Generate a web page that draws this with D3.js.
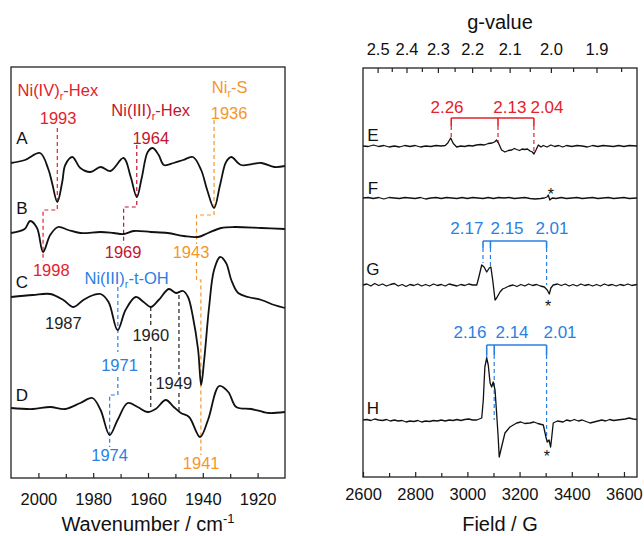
<!DOCTYPE html>
<html>
<head>
<meta charset="utf-8">
<script src="https://cdn.jsdelivr.net/npm/d3@7"></script>
<style>
  body { margin: 0; background: #fff; }
  svg { display: block; font-family: "Liberation Sans", Arial, sans-serif; }
</style>
</head>
<body>
<svg id="chart" width="644" height="536"></svg>
<script>
// ---- IR spectra: [wavenumber, signal] (signal relative to each trace's baseline)
const irA = [[2010,0],[2004.9,3],[1999.4,10],[1996.4,-6],[1995.0,-20],[1993.1,-39],[1991.3,-19],[1990.2,-2],[1987.6,6],
  [1984.7,-5],[1981.0,-9],[1977.3,-4],[1973.7,-8],[1968.9,5],[1966.3,-14],[1964.1,-34],[1962.3,-15],[1960.1,11],
  [1958.3,15],[1956.1,8],[1954.2,-2],[1950.6,0],[1947.2,3],[1943.6,6],[1940.6,-7],[1938.4,-27],[1935.9,-45],
  [1933.7,-22],[1931.5,1],[1929.6,6],[1926.0,-2],[1918.6,0],[1913.9,-4],[1910,-3]];
const irB = [[2010,-1],[2005,3],[2003.0,11],[2000.5,4],[1998.3,-20],[1995.7,-3],[1992.8,5],[1989.1,2],[1984.7,-1],
  [1977.3,0],[1972.6,-1],[1968.9,-2],[1965.2,1],[1959.0,0],[1952.8,-1],[1946.9,-4],[1941.7,-5],[1938.1,-1],
  [1933.3,4],[1928.5,5],[1918.6,4],[1910,3]];
const irC = [[2010,-2],[2002,0],[1995.7,1],[1990.9,-5],[1987.2,-12],[1983.6,-5],[1979.9,0],[1977.3,1],[1974.4,-7],
  [1971.1,-35],[1968.2,-15],[1964.5,-2],[1961.6,-7],[1959.0,-12],[1956.1,-5],[1952.4,6],[1949.8,2],[1947.2,4],
  [1945.4,-2],[1943.6,-22],[1941.7,-55],[1940.6,-90],[1939.5,-65],[1937.7,-12],[1935.9,25],[1933.7,38],
  [1931.5,32],[1929.6,15],[1927.1,2],[1923.4,-2],[1918.6,-5],[1913.9,-10],[1910,-13]];
const irD = [[2010,1],[2002,0],[1995.7,2],[1990.2,0],[1984.7,6],[1980.3,11],[1977.3,-1],[1974.0,-26],[1971.1,-11],
  [1967.4,6],[1963.8,2],[1960.1,-3],[1957.2,0],[1953.5,9],[1950.6,2],[1948.0,-4],[1945.0,-8],[1941.0,-28],
  [1938.1,-11],[1934.0,23],[1930.7,17],[1927.8,2],[1922.3,0],[1917.9,-3],[1915.7,-4],[1910,-3]];
const irTraces = [irA, irB, irC, irD];
const irLetters = ["A", "B", "C", "D"];
const irOffsets = [315, 246, 183, 69];
const irLetterLevels = [340, 270, 196, 83];

const irTicks = [2000, 1980, 1960, 1940, 1920];
const irMinorTicks = [1990, 1970, 1950, 1930];

// dashed guide lines, [wavenumber, level]
const irGuides = [
  { hue: "red",     pts: [[1993.1,350],[1993.1,268],[1998.3,268],[1998.3,217]] },
  { hue: "crimson", pts: [[1964.1,333],[1964.1,271],[1968.9,271],[1968.9,234]] },
  { hue: "orange",  pts: [[1935.9,358],[1935.9,263],[1942.3,263],[1942.3,234]] },
  { hue: "orange",  pts: [[1942.3,216],[1942.3,198],[1940.7,198],[1940.7,23]] },
  { hue: "blue",    pts: [[1971.0,191],[1971.0,126]] },
  { hue: "blue",    pts: [[1971.0,101],[1971.0,83],[1974.0,83],[1974.0,31]] },
  { hue: "ink",     pts: [[1959.0,171],[1959.0,151]] },
  { hue: "ink",     pts: [[1959.0,131],[1959.0,70]] },
  { hue: "ink",     pts: [[1948.7,183],[1948.7,103]] },
  { hue: "ink",     pts: [[1948.7,85],[1948.7,65]] }
];
// [text (_sub_), hue, wavenumber, level]
const irLabels = [
  ["Ni(IV)_r_-Hex", "red", 1992.9, 388], ["1993", "red", 1992.8, 360],
  ["Ni(III)_r_-Hex", "crimson", 1959.0, 368], ["1964", "crimson", 1959.0, 340],
  ["Ni_r_-S", "orange", 1930.2, 391], ["1936", "orange", 1930.4, 365],
  ["1998", "red", 1995.3, 208], ["1969", "crimson", 1969.1, 226], ["1943", "orange", 1944.3, 226],
  ["Ni(III)_r_-t-OH", "blue", 1967.8, 200], ["1987", "ink", 1990.9, 155],
  ["1971", "blue", 1970.4, 113], ["1960", "ink", 1959.0, 143], ["1949", "ink", 1950.6, 95],
  ["1974", "blue", 1974.0, 23], ["1941", "orange", 1940.6, 15]
];

// ---- EPR spectra: [field G, signal]
const eprE = [[2600,0],[2620,-0.5],[2640,1],[2660,-0.5],[2680,0.5],[2700,-1],[2720,0],[2740,-1],[2760,0.5],[2780,-0.5],
  [2800,0.5],[2820,-1],[2840,0],[2860,-0.5],[2880,0.5],[2900,0],[2915,0.5],[2925,3],[2936,8],[2946,2.5],[2959,-1],
  [2975,0],[2990,-0.5],[3005,0.5],[3020,0],[3035,1],[3050,1.5],[3065,1],[3080,2.5],[3095,3],[3104,4],[3112,6],
  [3120,2.5],[3131,-4],[3144,-6],[3157,-4.5],[3170,-4],[3180,-2.5],[3189,-3.5],[3200,-4.5],[3210,-3],[3220,-3.5],
  [3230,-3],[3240,-5],[3249,-6],[3255,-8],[3263,-4],[3272,1],[3282,-1],[3291,0.5],[3305,-1],[3320,1],[3335,-0.5],
  [3350,0.5],[3365,-1],[3380,0.5],[3400,-0.5],[3420,0.5],[3440,0],[3460,-1],[3480,0.5],[3500,-0.5],[3520,0.5],
  [3540,0],[3560,-0.5],[3580,0.5],[3600,-0.5],[3620,0.5],[3650,0]];
const eprF = [[2600,0],[2620,0.5],[2640,-0.5],[2660,0.5],[2680,-1],[2700,0.5],[2720,0],[2740,-0.5],[2760,0.5],[2780,0],
  [2800,-0.5],[2820,0.5],[2840,-1],[2860,0],[2880,0.5],[2900,-0.5],[2920,0.5],[2940,0],[2960,-0.5],[2980,0.5],
  [3000,-0.5],[3020,0.5],[3040,0],[3060,-0.5],[3080,0.5],[3100,-0.5],[3120,0.5],[3140,0],[3160,0.5],[3180,-0.5],
  [3200,0],[3220,0.5],[3240,-0.5],[3260,-1],[3280,-0.5],[3295,0],[3305,1],[3310,3],[3316,-2],[3325,0],[3340,-0.5],
  [3360,0.5],[3380,-0.5],[3400,0],[3420,0.5],[3440,-0.5],[3460,0],[3480,0.5],[3500,-0.5],[3520,0],[3540,0.5],
  [3560,-0.5],[3580,0],[3600,0.5],[3620,-0.5],[3650,0]];
const eprG = [[2600,0],[2615,1],[2630,-1],[2645,1.5],[2660,-0.5],[2675,1],[2690,-1],[2705,0.5],[2720,1.5],[2735,-1],
  [2750,0.5],[2765,-1.5],[2780,0.5],[2795,-0.5],[2810,1],[2825,-1],[2840,0.5],[2855,-1],[2870,1],[2885,-0.5],
  [2900,0.5],[2915,-1],[2930,1],[2945,0],[2960,-1],[2975,0.5],[2990,-0.5],[3005,1],[3020,0],[3036,0],[3044,8],
  [3055,20],[3064,18],[3074,13],[3084,17],[3090,18],[3097,5],[3106,-15],[3112,-13],[3125,-7],[3135,-4],[3144,-3],
  [3160,-1],[3175,0],[3190,-1.5],[3205,0.5],[3220,-1],[3235,1],[3250,-0.5],[3265,0.5],[3280,-1],[3295,-2],
  [3306,-5],[3314,-9],[3320,-3],[3329,0],[3345,1],[3360,-0.5],[3375,1],[3390,-1],[3405,0.5],[3420,-1],[3435,1],
  [3450,-0.5],[3465,0.5],[3480,-1],[3495,0.5],[3510,-1],[3525,1],[3540,-0.5],[3555,0.5],[3570,-1],[3585,0.5],
  [3600,-0.5],[3615,1],[3630,-0.5],[3650,0.5]];
const eprH = [[2600,0],[2615,0.5],[2630,-0.5],[2645,1],[2660,0],[2675,-0.5],[2690,0.5],[2705,-1],[2720,0],[2735,-1],
  [2750,-0.5],[2765,-2],[2780,-1],[2795,-1.5],[2810,-0.5],[2825,-2],[2840,-1],[2855,-1.5],[2870,-0.5],[2885,-1],
  [2900,0],[2915,-1],[2930,0],[2945,-0.5],[2960,0.5],[2975,-0.5],[2990,0.5],[3005,1],[3020,0],[3036,0],[3055,2],
  [3061,20],[3067,53],[3074,62],[3080,55],[3087,37],[3093,33],[3099,38],[3106,30],[3112,7],[3118,-17],[3122,-37],
  [3131,-27],[3144,-13],[3163,-7],[3189,-3],[3205,-2],[3220,-3.5],[3240,-3],[3255,-2],[3270,-3.5],[3291,-5],
  [3301,-17],[3306,-22],[3313,-20],[3319,-27],[3323,-18],[3329,-3],[3345,-1],[3367,-2],[3380,0],[3395,-1],
  [3410,0.5],[3425,-1],[3440,0],[3455,-1.5],[3470,-3],[3485,-2],[3500,-1],[3515,0],[3530,-1],[3545,0.5],
  [3560,-0.5],[3575,0],[3590,0.5],[3605,1],[3620,2],[3635,1],[3650,0.5]];
const eprTraces = [eprE, eprF, eprG, eprH];
const eprLetters = ["E", "F", "G", "H"];
const eprOffsets = [331, 279, 192, 57];
const eprLetterLevels = [342, 289, 208, 69];

const fieldTicks = [2600, 2800, 3000, 3200, 3400, 3600];
const fieldMinorTicks = [2700, 2900, 3100, 3300, 3500];
const gTicks = [2.5, 2.4, 2.3, 2.2, 2.1, 2.0, 1.9];
const gMinorTicks = [2.45, 2.35, 2.25, 2.15, 2.05, 1.95, 1.85];
const gConst = 6640; // h*nu/muB in G (X-band, ~9.29 GHz)

const eprBrackets = [
  { hue: "red",  g: [2.26, 2.13, 2.04], bar: 359, tick: 351, ends: [339, 334, 324] },
  { hue: "blue", g: [2.17, 2.15, 2.01], bar: 236, tick: 229, ends: [214, 210, 192] },
  { hue: "blue", g: [2.16, 2.14, 2.01], bar: 132, tick: 122, ends: [119, 57, 37] }
];
const eprLabels = [
  ["2.26", "red", 2922, 370], ["2.13", "red", 3163, 370], ["2.04", "red", 3305, 370],
  ["2.17", "blue", 2998, 249], ["2.15", "blue", 3152, 249], ["2.01", "blue", 3324, 249],
  ["2.16", "blue", 3010, 145], ["2.14", "blue", 3171, 145], ["2.01", "blue", 3355, 145]
];
const asterisks = [[3320, 286], [3309, 174], [3305, 24]];

// ---- styling
const hues = { red: "#e3222c", crimson: "#c4152f", orange: "#f4962b", blue: "#2a7fe3", ink: "#222" };
const svg = d3.select("#chart");
svg.append("rect").attr("width", 644).attr("height", 536).attr("fill", "#fff");

const xL = d3.scaleLinear().domain([2010, 1910]).range([11, 285]);
const yL = d3.scaleLinear().domain([0, 411]).range([478, 67]);
const xR = d3.scaleLinear().domain([2600, 3650]).range([363, 637]);
const yR = d3.scaleLinear().domain([0, 409]).range([477, 68]);

// text helper: "_x_" marks a subscript
function addText(g, str, x, y, color, size, anchor) {
  const t = g.append("text").attr("x", x).attr("y", y + size * 0.36)
    .attr("fill", color).attr("font-size", size).attr("text-anchor", anchor || "middle");
  str.split("_").forEach((part, i) => {
    if (!part) return;
    const ts = t.append("tspan").text(part);
    if (i % 2 === 1) ts.attr("font-size", size * 0.65).attr("dy", 4);
    else if (i > 0) ts.attr("dy", -4);
  });
  return t;
}

function styleAxis(g) {
  g.select(".domain").remove();
  g.selectAll(".tick line").attr("stroke", "#222").attr("stroke-width", 1.2);
  g.selectAll("text").attr("font-size", 16.5).attr("fill", "#111")
    .attr("font-family", '"Liberation Sans", Arial, sans-serif');
}

// ---- left panel (IR)
const left = svg.append("g");
const guideLine = d3.line().x(d => xL(d[0])).y(d => yL(d[1]));
irGuides.forEach(gd => {
  left.append("path").attr("d", guideLine(gd.pts)).attr("fill", "none")
    .attr("stroke", hues[gd.hue]).attr("stroke-width", 1.2).attr("stroke-dasharray", "4,3");
});
irTraces.forEach((tr, i) => {
  const line = d3.line().x(d => xL(d[0])).y(d => yL(d[1] + irOffsets[i]))
    .curve(d3.curveCatmullRom.alpha(0.5));
  left.append("path").attr("d", line(tr)).attr("fill", "none")
    .attr("stroke", "#111").attr("stroke-width", 1.8).attr("stroke-linejoin", "round");
  addText(left, irLetters[i], xL(2006), yL(irLetterLevels[i]), "#111", 17);
});
irLabels.forEach(l => addText(left, l[0], xL(l[2]), yL(l[3]), hues[l[1]], 16.5));

left.append("g").attr("transform", "translate(0,478)")
  .call(d3.axisBottom(xL).tickValues(irTicks).tickFormat(d3.format("d"))
    .tickSizeInner(-5).tickSizeOuter(0).tickPadding(15))
  .call(styleAxis);
left.append("g").attr("transform", "translate(0,478)")
  .call(d3.axisBottom(xL).tickValues(irMinorTicks).tickSizeInner(-4).tickSizeOuter(0).tickFormat(""))
  .call(styleAxis);
left.append("rect").attr("x", 11).attr("y", 67).attr("width", 274).attr("height", 411)
  .attr("fill", "none").attr("stroke", "#222").attr("stroke-width", 1.3);
const tL = left.append("text").attr("x", 148).attr("y", 531).attr("text-anchor", "middle")
  .attr("font-size", 20).attr("fill", "#111");
tL.append("tspan").text("Wavenumber / cm");
tL.append("tspan").text("-1").attr("font-size", 13).attr("dy", -8);

// ---- right panel (EPR)
const right = svg.append("g");
eprBrackets.forEach(b => {
  const col = hues[b.hue];
  const xs = b.g.map(g => xR(gConst / g));
  right.append("path")
    .attr("d", d3.line()(xs.map(x => [x, yR(b.bar)])))
    .attr("stroke", col).attr("stroke-width", 1.6).attr("fill", "none");
  xs.forEach((x, k) => {
    right.append("line").attr("x1", x).attr("x2", x).attr("y1", yR(b.bar)).attr("y2", yR(b.tick))
      .attr("stroke", col).attr("stroke-width", 1.6);
    right.append("line").attr("x1", x).attr("x2", x).attr("y1", yR(b.tick)).attr("y2", yR(b.ends[k]))
      .attr("stroke", col).attr("stroke-width", 1.2).attr("stroke-dasharray", "4,3");
  });
});
eprTraces.forEach((tr, i) => {
  const line = d3.line().x(d => xR(d[0])).y(d => yR(d[1] + eprOffsets[i]));
  right.append("path").attr("d", line(tr)).attr("fill", "none")
    .attr("stroke", "#111").attr("stroke-width", 1.3).attr("stroke-linejoin", "round");
  addText(right, eprLetters[i], xR(2638), yR(eprLetterLevels[i]), "#111", 17);
});
eprLabels.forEach(l => addText(right, l[0], xR(l[2]), yR(l[3]), hues[l[1]], 17));
asterisks.forEach(a => {
  right.append("text").attr("x", xR(a[0])).attr("y", yR(a[1]) + 9).attr("text-anchor", "middle")
    .attr("font-size", 16).attr("fill", "#111").text("*");
});

right.append("g").attr("transform", "translate(0,477)")
  .call(d3.axisBottom(xR).tickValues(fieldTicks).tickFormat(d3.format("d"))
    .tickSizeInner(-5).tickSizeOuter(0).tickPadding(11))
  .call(styleAxis);
right.append("g").attr("transform", "translate(0,477)")
  .call(d3.axisBottom(xR).tickValues(fieldMinorTicks).tickSizeInner(-4).tickSizeOuter(0).tickFormat(""))
  .call(styleAxis);
right.append("g").attr("transform", "translate(0,68)")
  .call(d3.axisTop(xR).tickValues(gTicks.map(g => gConst / g)).tickSizeInner(-5).tickSizeOuter(0)
    .tickPadding(13).tickFormat((d, i) => d3.format(".1f")(gTicks[i])))
  .call(styleAxis);
right.append("g").attr("transform", "translate(0,68)")
  .call(d3.axisTop(xR).tickValues(gMinorTicks.map(g => gConst / g)).tickSizeInner(-4).tickSizeOuter(0).tickFormat(""))
  .call(styleAxis);
right.append("rect").attr("x", 363).attr("y", 68).attr("width", 274).attr("height", 409)
  .attr("fill", "none").attr("stroke", "#222").attr("stroke-width", 1.3);
right.append("text").attr("x", 500).attr("y", 531).attr("text-anchor", "middle")
  .attr("font-size", 20).attr("fill", "#111").text("Field / G");
right.append("text").attr("x", 500).attr("y", 28.5).attr("text-anchor", "middle")
  .attr("font-size", 20).attr("fill", "#111").text("g-value");
</script>
</body>
</html>
